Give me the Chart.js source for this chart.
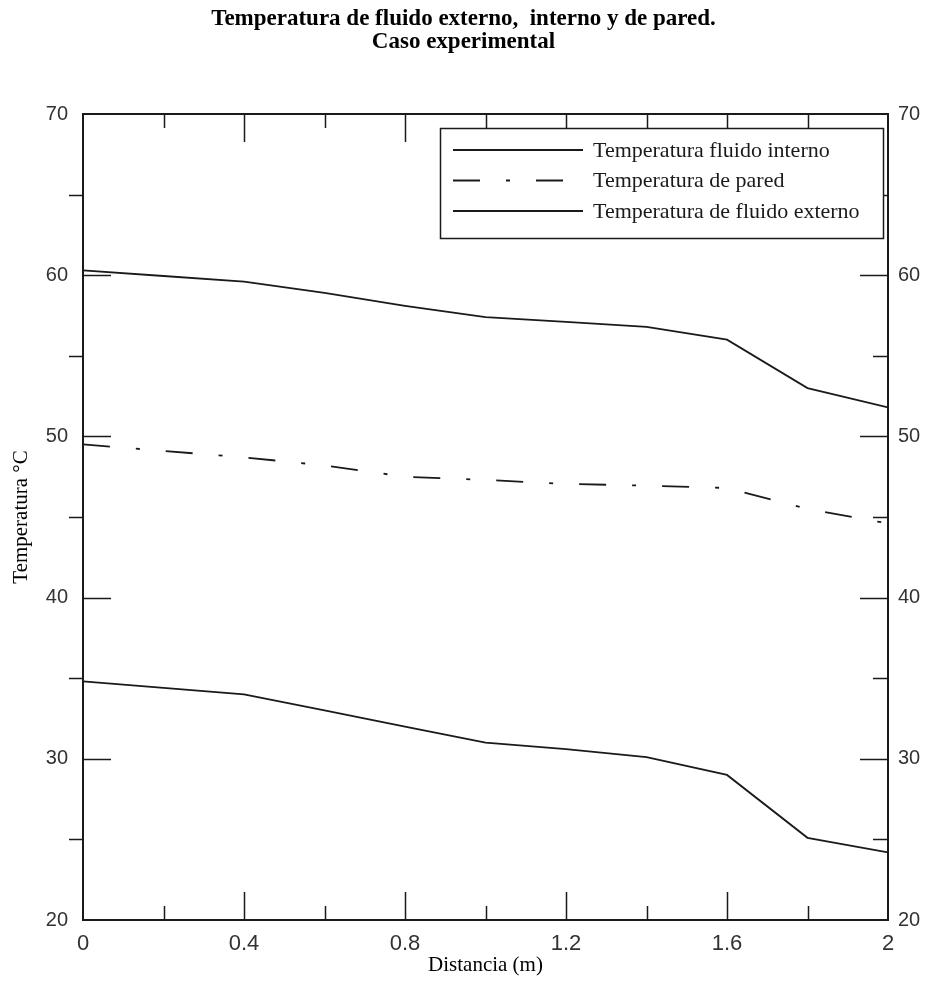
<!DOCTYPE html>
<html>
<head>
<meta charset="utf-8">
<script src="https://cdn.jsdelivr.net/npm/chart.js@4/dist/chart.umd.min.js"></script>
<style>
  body { margin: 0; background: #fff; }
  #wrap { width: 927px; height: 981px; }
</style>
</head>
<body>
<div id="wrap"><canvas id="mycanvas"></canvas></div>
<script>
// values
var distancia = [0, 0.2, 0.4, 0.6, 0.8, 1.0, 1.2, 1.4, 1.6, 1.8, 2.0];
var fluidoInterno = [60.3, 59.95, 59.6, 58.9, 58.1, 57.4, 57.1, 56.8, 56.0, 53.0, 51.8];
var pared = [49.5, 49.1, 48.7, 48.2, 47.5, 47.3, 47.05, 46.95, 46.8, 45.5, 44.6];
var fluidoExterno = [34.8, 34.4, 34.0, 33.0, 32.0, 31.0, 30.6, 30.1, 29.0, 25.1, 24.2];

var xTicks = [0, 0.4, 0.8, 1.2, 1.6, 2];
var xTickLabels = ["0", "0.4", "0.8", "1.2", "1.6", "2"];
var yTicks = [20, 30, 40, 50, 60, 70];
var yTickLabels = ["20", "30", "40", "50", "60", "70"];

function pts(ys) {
  var out = [];
  for (var i in ys) out.push({x: distancia[i], y: ys[i]});
  return out;
}

var ink = "#1a1a1a";
var serif = "'Liberation Serif', 'Times New Roman', serif";
var sans = "'Liberation Sans', Arial, sans-serif";

// frame, inward/outward ticks and the boxed legend
var frame = {
  id: "frame",
  afterDraw: function(chart) {
    var c = chart.ctx, a = chart.chartArea;
    var xs = chart.scales.x, ys = chart.scales.y;
    c.save();
    c.strokeStyle = ink;
    c.lineWidth = 2;
    c.strokeRect(a.left, a.top, a.right - a.left, a.bottom - a.top);
    c.beginPath();
    for (var k = 1; k < 10; k++) {
      var v = k * 0.2;
      var px = Math.round(xs.getPixelForValue(v)) + 0.5;
      var len = (k % 2 == 0) ? 28 : 14;
      c.moveTo(px, a.bottom); c.lineTo(px, a.bottom - len);
      c.moveTo(px, a.top); c.lineTo(px, a.top + len);
    }
    for (var t = 25; t < 70; t += 5) {
      var py = Math.round(ys.getPixelForValue(t)) + 0.5;
      if (t % 10 == 0) {
        c.moveTo(a.left, py); c.lineTo(a.left + 28, py);
        c.moveTo(a.right, py); c.lineTo(a.right - 28, py);
      } else {
        c.moveTo(a.left, py); c.lineTo(a.left - 14, py);
        c.moveTo(a.right, py); c.lineTo(a.right - 15, py);
      }
    }
    c.lineWidth = 1.5;
    c.stroke();

    // legend
    var bx = 440, by = 128, bw = 443, bh = 110;
    c.fillStyle = "#fff";
    c.fillRect(bx, by, bw, bh);
    c.lineWidth = 1.5;
    c.strokeRect(bx + 0.5, by + 0.5, bw, bh);
    c.font = "22px " + serif;
    c.textBaseline = "middle";
    c.fillStyle = ink;
    chart.data.datasets.forEach(function(ds, i) {
      var ly = 150 + i * 30.5;
      c.beginPath();
      c.setLineDash(ds.borderDash || []);
      c.lineWidth = 1.8;
      c.moveTo(453, ly); c.lineTo(583, ly);
      c.stroke();
      c.setLineDash([]);
      c.fillText(ds.label, 593, ly + 1);
    });
    c.restore();
  }
};

function fixTicks(values) {
  return function(scale) {
    scale.ticks = values.map(function(v) { return {value: v}; });
  };
}

var ctx = document.getElementById("mycanvas");
var chart = new Chart(ctx, {
  type: "line",
  data: {
    datasets: [
      { label: "Temperatura fluido interno", data: pts(fluidoInterno),
        borderColor: ink, borderWidth: 1.8, pointRadius: 0, fill: false, tension: 0 },
      { label: "Temperatura de pared", data: pts(pared),
        borderColor: ink, borderWidth: 1.8, pointRadius: 0, fill: false, tension: 0,
        borderDash: [27, 26, 4, 26] },
      { label: "Temperatura de fluido externo", data: pts(fluidoExterno),
        borderColor: ink, borderWidth: 1.8, pointRadius: 0, fill: false, tension: 0 }
    ]
  },
  options: {
    responsive: true,
    maintainAspectRatio: false,
    animation: false,
    layout: { padding: 0 },
    plugins: {
      legend: { display: false },
      tooltip: { enabled: false },
      title: {
        display: true,
        text: ["Temperatura de fluido externo,  interno y de pared.", "Caso experimental"],
        color: "#000",
        font: { family: serif, size: 23, weight: "bold", lineHeight: 1.0 },
        padding: { top: 8, bottom: 60 }
      }
    },
    scales: {
      x: {
        type: "linear", min: 0, max: 2,
        afterBuildTicks: fixTicks(xTicks),
        afterFit: function(s) { s.height = 61; },
        grid: { display: false, drawTicks: false },
        border: { display: false },
        ticks: { padding: 11, color: "#333", maxRotation: 0,
                 callback: function(v, i) { return xTickLabels[i]; },
                 font: { family: sans, size: 22 } },
        title: { display: true, text: "Distancia (m)", color: "#000",
                 font: { family: serif, size: 21 }, padding: { top: 0, bottom: 3 } }
      },
      y: {
        position: "left", min: 20, max: 70,
        afterBuildTicks: fixTicks(yTicks),
        afterFit: function(s) { s.width = 83; },
        grid: { display: false, drawTicks: false },
        border: { display: false },
        ticks: { padding: 15, color: "#333",
                 callback: function(v, i) { return yTickLabels[i]; },
                 font: { family: sans, size: 20 } },
        title: { display: true, text: "Temperatura °C", color: "#000",
                 font: { family: serif, size: 21 }, padding: { top: 9, bottom: 0 } }
      },
      y2: {
        position: "right", min: 20, max: 70,
        afterBuildTicks: fixTicks(yTicks),
        afterFit: function(s) { s.width = 39; },
        grid: { display: false, drawTicks: false },
        border: { display: false },
        ticks: { padding: 10, color: "#333",
                 callback: function(v, i) { return yTickLabels[i]; },
                 font: { family: sans, size: 20 } }
      }
    }
  },
  plugins: [frame]
});
</script>
</body>
</html>
